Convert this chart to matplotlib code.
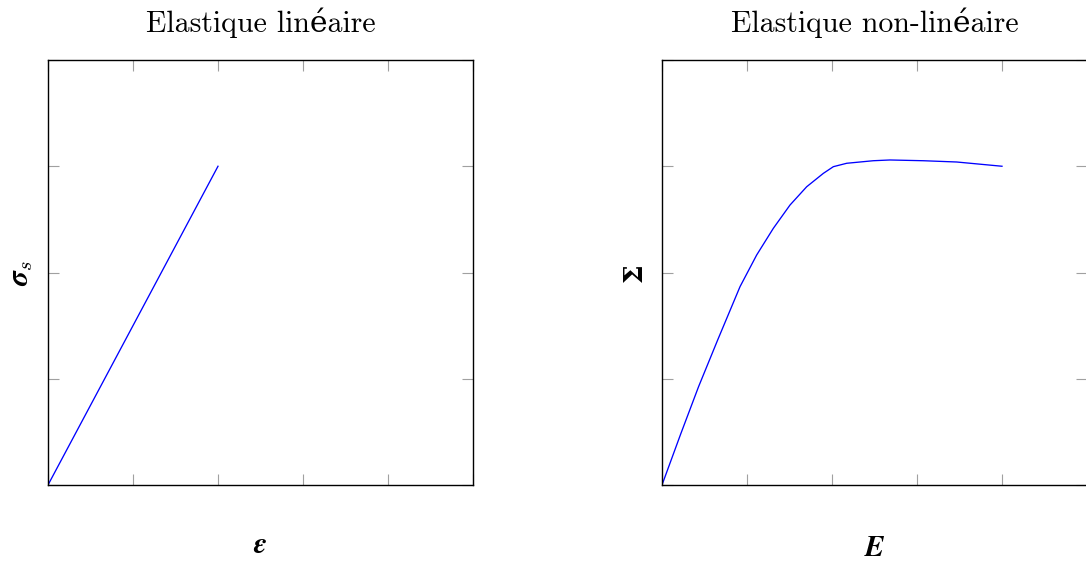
import numpy as np
import matplotlib
matplotlib.use("Agg")
import matplotlib.pyplot as plt

# ── Data ──────────────────────────────────────────────────────────────────────
lin_strain = [0.0, 2.0]
lin_stress = [0.0, 3.0]

nl_strain = [0.0, 0.22, 0.43, 0.655, 0.918, 1.114, 1.31, 1.506, 1.702, 1.898,
             2.016, 2.173, 2.486, 2.682, 3.074, 3.467, 4.0]
nl_stress = [0.0, 0.48, 0.925, 1.365, 1.867, 2.165, 2.416, 2.635, 2.807, 2.933,
             2.996, 3.028, 3.052, 3.059, 3.052, 3.040, 3.0]

titles = ["Elastique linéaire", "Elastique non-linéaire"]
xlabels = [r"$\mathbfit{\varepsilon}$", r"$\mathbfit{E}$"]
ylabels = [r"$\mathbfit{\sigma}_{s}$", "Σ"]

# ── Style ─────────────────────────────────────────────────────────────────────
plt.rcParams["font.family"] = ["cmr10", "DejaVu Serif"]
plt.rcParams["mathtext.fontset"] = "cm"
plt.rcParams["axes.formatter.use_mathtext"] = True

fig = plt.figure(figsize=(10.86, 5.68), dpi=100)
ax1 = fig.add_axes([48 / 1086, 83 / 568, 425 / 1086, 425 / 568])
ax2 = fig.add_axes([662 / 1086, 83 / 568, 425 / 1086, 425 / 568])

ax1.plot(lin_strain, lin_stress, color="blue", lw=0.95)
ax2.plot(nl_strain, nl_stress, color="blue", lw=0.95)

for ax, title in zip([ax1, ax2], titles):
    ax.set_xlim(0, 5)
    ax.set_ylim(0, 4)
    ax.set_xticks(range(6))
    ax.set_yticks(range(5))
    ax.set_xticklabels([])
    ax.set_yticklabels([])
    ax.tick_params(direction="in", length=8, width=0.8, color="#a0a0a0",
                   top=True, right=True)
    for s in ax.spines.values():
        s.set_linewidth(1.0)
    ax.set_title(title, fontsize=21.5, pad=20)

ax1.set_xlabel(xlabels[0], fontsize=21, labelpad=31)
ax2.set_xlabel(xlabels[1], fontsize=21, labelpad=33)
ax1.set_ylabel(ylabels[0], fontsize=21, labelpad=6)
ax2.set_ylabel(ylabels[1], fontsize=19, labelpad=7, family="DejaVu Serif",
               fontweight="bold")

fig.savefig("out.png", dpi=100)
